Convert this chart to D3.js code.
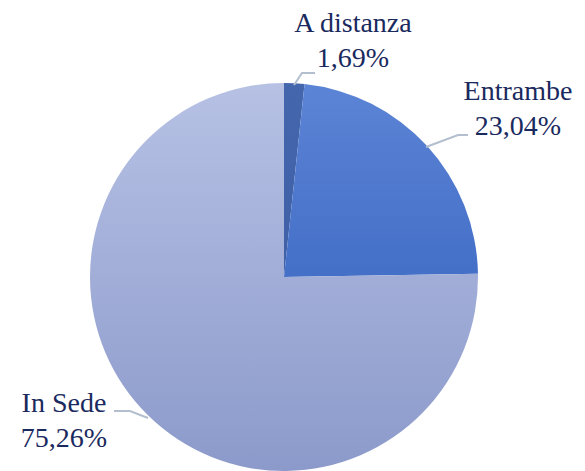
<!DOCTYPE html>
<html>
<head>
<meta charset="utf-8">
<script src="https://cdn.jsdelivr.net/npm/d3@7"></script>
<style>
  body { margin: 0; background: #fff; }
  text, tspan { font-family: "Liberation Serif"; }
</style>
</head>
<body>
<svg id="chart" width="585" height="471"></svg>
<script>
// Modalita pie chart

var categories = ["A distanza", "Entrambe", "In Sede"];
var values = [1.69, 23.04, 75.26];
var pctLabels = ["1,69%", "23,04%", "75,26%"];

var width = 585, height = 471;
var cx = 284, cy = 277, radius = 194;

var grads = [
    ["#4466ac", "#3a5aa0"],
    ["#5c84d6", "#2c5bb8"],
    ["#b6c1e4", "#8c9acb"]
];

// label placement and leader line points
var labelPos = [
    {x: 353, y: 32, line: [[294, 85], [302, 73], [315, 73]]},
    {x: 518, y: 100, line: [[426, 147], [458, 135], [468, 135]]},
    {x: 64, y: 412, line: [[148, 418], [130, 411], [114, 411]]}
];

var svg = d3.select("#chart");

var defs = svg.append("defs");
grads.forEach(function(g, i) {
    var lg = defs.append("linearGradient")
        .attr("id", "g" + i)
        .attr("gradientUnits", "userSpaceOnUse")
        .attr("x1", 0).attr("y1", -radius)
        .attr("x2", 0).attr("y2", radius);
    lg.append("stop").attr("offset", "0%").attr("stop-color", g[0]);
    lg.append("stop").attr("offset", "100%").attr("stop-color", g[1]);
});

var pie = d3.pie().sort(null).value(function(d) { return d; });
var arc = d3.arc().innerRadius(0).outerRadius(radius);

var g = svg.append("g").attr("transform", "translate(" + cx + "," + cy + ")");

g.selectAll("path.slice")
    .data(pie(values))
    .enter().append("path")
    .attr("class", "slice")
    .attr("d", arc)
    .attr("fill", function(d, i) { return "url(#g" + i + ")"; });

// leader lines
svg.selectAll("polyline.leader")
    .data(labelPos)
    .enter().append("polyline")
    .attr("class", "leader")
    .attr("points", function(d) { return d.line.map(function(p) { return p.join(","); }).join(" "); })
    .attr("fill", "none")
    .attr("stroke", "#b3bfcf")
    .attr("stroke-width", 2);

var lbl = svg.selectAll("text.lbl")
    .data(categories)
    .enter().append("text")
    .attr("class", "lbl")
    .attr("text-anchor", "middle")
    .attr("font-family", "Liberation Serif")
    .attr("font-size", 28)
    .attr("fill", "#1a2a5e");

lbl.append("tspan")
    .attr("font-family", "Liberation Serif")
    .attr("x", function(d, i) { return labelPos[i].x; })
    .attr("y", function(d, i) { return labelPos[i].y; })
    .text(function(d) { return d; });

lbl.append("tspan")
    .attr("font-family", "Liberation Serif")
    .attr("x", function(d, i) { return labelPos[i].x; })
    .attr("y", function(d, i) { return labelPos[i].y + 35; })
    .text(function(d, i) { return pctLabels[i]; });
</script>
</body>
</html>
